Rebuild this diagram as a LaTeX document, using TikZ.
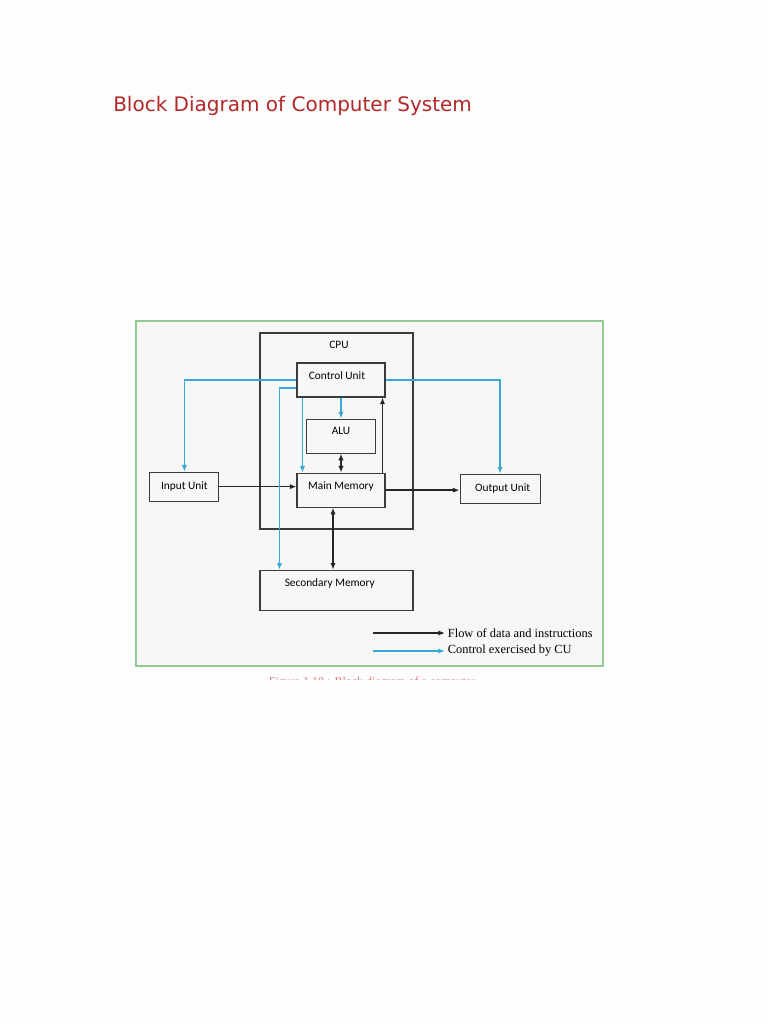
\documentclass[tikz,border=0pt]{standalone}
\usepackage{fontspec}
\setmainfont{Liberation Serif}
\newfontfamily\boxfont{Carlito}
\newfontfamily\titlefont{DejaVu Sans}
\usetikzlibrary{arrows.meta,positioning}
\definecolor{pagebg}     {RGB}{253,253,253}
\definecolor{figbg}      {RGB}{247,247,247}
\definecolor{framegreen} {RGB}{145,203,145}
\definecolor{ctlblue}    {RGB}{55,170,210}
\definecolor{linegray}   {RGB}{60,60,60}
\definecolor{titlered}   {RGB}{178,40,40}
\definecolor{captionred} {RGB}{226,120,128}

\begin{document}
\begin{tikzpicture}[
  x=0.75pt,y=-0.75pt,
  >={Latex[length=5pt,width=4pt]},
  box/.style   ={draw=linegray,line width=0.8pt,inner sep=0pt,
                 font=\boxfont\fontsize{8.5}{10}\selectfont,
                 text height=6pt},
  legend/.style={font=\fontsize{9.3}{11}\selectfont,inner sep=2pt},
  flow/.style  ={->,line width=1pt,black!85},
  dflow/.style ={<->,line width=1pt,black!85},
  ctl/.style   ={->,line width=1pt,ctlblue},
]
\useasboundingbox[fill=pagebg] (0,0) rectangle (768,1024);

%% ── Title and figure frame ───────────────────────────────────────────────────
\node[anchor=base west,inner sep=0pt,titlered,
      font=\titlefont\fontsize{15}{18}\selectfont] (title) at (113,112)
  {Block Diagram of Computer System};
\draw[framegreen,line width=1.5pt,fill=figbg] (136,321) rectangle (603,666);

%% ── CPU with its units ───────────────────────────────────────────────────────
\node[box,minimum width=114.75pt,minimum height=147pt] (cpu) at (336.5,431) {};
\node[font=\boxfont\fontsize{8.5}{10}\selectfont] (cputxt) at (339,345) {CPU};
\node[box,minimum width=66pt,minimum height=25.5pt,text depth=6.2pt]
  (cu) at (341,380) {Control Unit\hspace*{6pt}};
\node[box,minimum width=51.75pt,minimum height=25.5pt,text depth=7.7pt]
  (alu) [below=15.75pt of cu] {ALU};
\node[box,minimum width=66pt,minimum height=25.5pt,text depth=7.7pt]
  (mm) [below=14.25pt of alu] {Main Memory};

%% ── Units outside the CPU ────────────────────────────────────────────────────
\node[box,minimum width=51.75pt,minimum height=21.75pt,text depth=2.45pt]
  (inp) [left=57.75pt of mm,yshift=2.6pt] {Input Unit};
\node[box,minimum width=60pt,minimum height=21.75pt,text depth=2.45pt]
  (outp) [right=55.5pt of mm,yshift=1.1pt] {\hspace*{4pt}Output Unit};
\node[box,minimum width=114.75pt,minimum height=30pt,text depth=12.2pt]
  (sec) [below=46.5pt of mm,xshift=-3.4pt] {Secondary Memory\hspace*{10pt}};

%% ── Flow of data and instructions ───────────────────────────────────────────
\draw[flow]  (inp.east) -- (inp.east -| mm.west);
\draw[flow]  (mm.east) -- (mm.east -| outp.west);
\draw[dflow] (alu.south) -- (alu.south |- mm.north);
\draw[flow]  ([xshift=-2.25pt]mm.north east) -- ([xshift=-2.25pt]mm.north east |- cu.south);
\draw[dflow] ([xshift=-6pt]mm.south) -- ([xshift=-6pt]mm.south |- sec.north);

%% ── Control exercised by CU ──────────────────────────────────────────────────
\draw[ctl] (cu.west) -| (inp.north);
\draw[ctl] (cu.east) -| (outp.north);
\draw[ctl] (alu.north |- cu.south) -- (alu.north);
\draw[ctl] ([xshift=4.5pt]cu.south west) -- ([xshift=4.5pt]cu.south west |- mm.north);
\draw[ctl] ([yshift=-6pt]cu.west) -| ([xshift=15pt]sec.north west);

%% ── Legend ───────────────────────────────────────────────────────────────────
\coordinate (flowtail) at (373,633);
\coordinate (ctltail)  at (373,651);
\node[legend,anchor=west] (flowtxt) at (445,633) {Flow of data and instructions};
\node[legend,anchor=west] (ctltxt)  at (445,651) {Control exercised by CU};
\draw[flow] (flowtail) -- (flowtxt.west);
\draw[ctl]  (ctltail)  -- (ctltxt.west);

%% ── Caption, cut off at the bottom ───────────────────────────────────────────
\begin{scope}
  \clip (0,0) rectangle (768,679);
  \node[anchor=base,captionred,font=\fontsize{9}{11}\selectfont] (caption)
    at (372,685) {Figure 1.10 : Block diagram of a computer};
\end{scope}
\end{tikzpicture}
\end{document}
